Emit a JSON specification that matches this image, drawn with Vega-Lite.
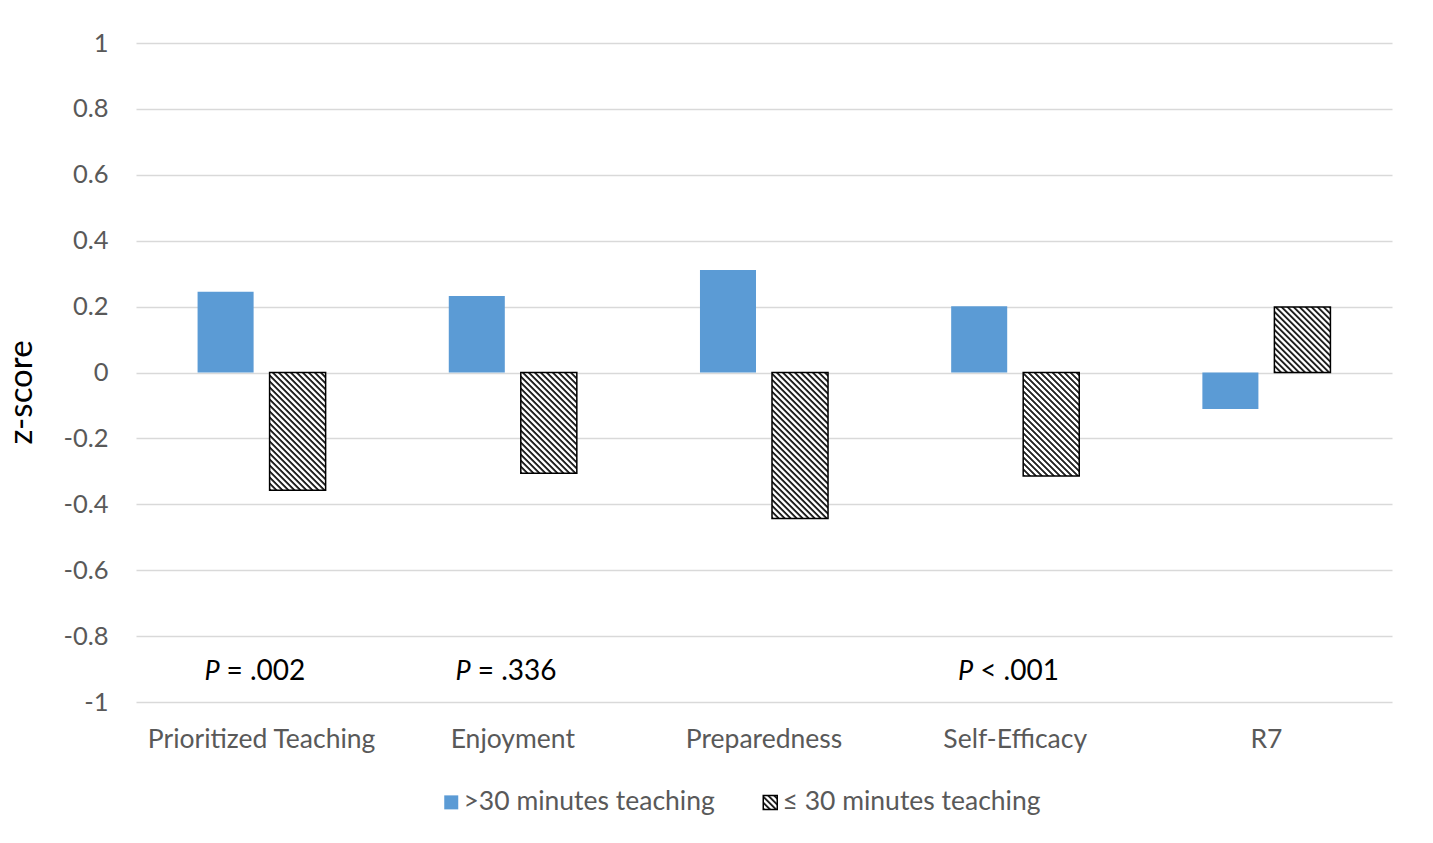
{
  "$schema": "https://vega.github.io/schema/vega-lite/v6.json",
  "width": 1256,
  "height": 659,
  "autosize": {"type": "none"},
  "padding": {"left": 136, "top": 43, "right": 41, "bottom": 141},
  "background": "#ffffff",
  "config": {"view": {"stroke": null}},
  "params": [
    {"name": "hatch", "value": [
      {"offset":0,"color":"#222"},{"offset":0.005,"color":"#222"},{"offset":0.009,"color":"#fff"},{"offset":0.016,"color":"#fff"},
      {"offset":0.02,"color":"#222"},{"offset":0.025,"color":"#222"},{"offset":0.029,"color":"#fff"},{"offset":0.036,"color":"#fff"},
      {"offset":0.04,"color":"#222"},{"offset":0.045,"color":"#222"},{"offset":0.049,"color":"#fff"},{"offset":0.056,"color":"#fff"},
      {"offset":0.06,"color":"#222"},{"offset":0.065,"color":"#222"},{"offset":0.069,"color":"#fff"},{"offset":0.076,"color":"#fff"},
      {"offset":0.08,"color":"#222"},{"offset":0.085,"color":"#222"},{"offset":0.089,"color":"#fff"},{"offset":0.096,"color":"#fff"},
      {"offset":0.1,"color":"#222"},{"offset":0.105,"color":"#222"},{"offset":0.109,"color":"#fff"},{"offset":0.116,"color":"#fff"},
      {"offset":0.12,"color":"#222"},{"offset":0.125,"color":"#222"},{"offset":0.129,"color":"#fff"},{"offset":0.136,"color":"#fff"},
      {"offset":0.14,"color":"#222"},{"offset":0.145,"color":"#222"},{"offset":0.149,"color":"#fff"},{"offset":0.156,"color":"#fff"},
      {"offset":0.16,"color":"#222"},{"offset":0.165,"color":"#222"},{"offset":0.169,"color":"#fff"},{"offset":0.176,"color":"#fff"},
      {"offset":0.18,"color":"#222"},{"offset":0.185,"color":"#222"},{"offset":0.189,"color":"#fff"},{"offset":0.196,"color":"#fff"},
      {"offset":0.2,"color":"#222"},{"offset":0.205,"color":"#222"},{"offset":0.209,"color":"#fff"},{"offset":0.216,"color":"#fff"},
      {"offset":0.22,"color":"#222"},{"offset":0.225,"color":"#222"},{"offset":0.229,"color":"#fff"},{"offset":0.236,"color":"#fff"},
      {"offset":0.24,"color":"#222"},{"offset":0.245,"color":"#222"},{"offset":0.249,"color":"#fff"},{"offset":0.256,"color":"#fff"},
      {"offset":0.26,"color":"#222"},{"offset":0.265,"color":"#222"},{"offset":0.269,"color":"#fff"},{"offset":0.276,"color":"#fff"},
      {"offset":0.28,"color":"#222"},{"offset":0.285,"color":"#222"},{"offset":0.289,"color":"#fff"},{"offset":0.296,"color":"#fff"},
      {"offset":0.3,"color":"#222"},{"offset":0.305,"color":"#222"},{"offset":0.309,"color":"#fff"},{"offset":0.316,"color":"#fff"},
      {"offset":0.32,"color":"#222"},{"offset":0.325,"color":"#222"},{"offset":0.329,"color":"#fff"},{"offset":0.336,"color":"#fff"},
      {"offset":0.34,"color":"#222"},{"offset":0.345,"color":"#222"},{"offset":0.349,"color":"#fff"},{"offset":0.356,"color":"#fff"},
      {"offset":0.36,"color":"#222"},{"offset":0.365,"color":"#222"},{"offset":0.369,"color":"#fff"},{"offset":0.376,"color":"#fff"},
      {"offset":0.38,"color":"#222"},{"offset":0.385,"color":"#222"},{"offset":0.389,"color":"#fff"},{"offset":0.396,"color":"#fff"},
      {"offset":0.4,"color":"#222"},{"offset":0.405,"color":"#222"},{"offset":0.409,"color":"#fff"},{"offset":0.416,"color":"#fff"},
      {"offset":0.42,"color":"#222"},{"offset":0.425,"color":"#222"},{"offset":0.429,"color":"#fff"},{"offset":0.436,"color":"#fff"},
      {"offset":0.44,"color":"#222"},{"offset":0.445,"color":"#222"},{"offset":0.449,"color":"#fff"},{"offset":0.456,"color":"#fff"},
      {"offset":0.46,"color":"#222"},{"offset":0.465,"color":"#222"},{"offset":0.469,"color":"#fff"},{"offset":0.476,"color":"#fff"},
      {"offset":0.48,"color":"#222"},{"offset":0.485,"color":"#222"},{"offset":0.489,"color":"#fff"},{"offset":0.496,"color":"#fff"},
      {"offset":0.5,"color":"#222"},{"offset":0.505,"color":"#222"},{"offset":0.509,"color":"#fff"},{"offset":0.516,"color":"#fff"},
      {"offset":0.52,"color":"#222"},{"offset":0.525,"color":"#222"},{"offset":0.529,"color":"#fff"},{"offset":0.536,"color":"#fff"},
      {"offset":0.54,"color":"#222"},{"offset":0.545,"color":"#222"},{"offset":0.549,"color":"#fff"},{"offset":0.556,"color":"#fff"},
      {"offset":0.56,"color":"#222"},{"offset":0.565,"color":"#222"},{"offset":0.569,"color":"#fff"},{"offset":0.576,"color":"#fff"},
      {"offset":0.58,"color":"#222"},{"offset":0.585,"color":"#222"},{"offset":0.589,"color":"#fff"},{"offset":0.596,"color":"#fff"},
      {"offset":0.6,"color":"#222"},{"offset":0.605,"color":"#222"},{"offset":0.609,"color":"#fff"},{"offset":0.616,"color":"#fff"},
      {"offset":0.62,"color":"#222"},{"offset":0.625,"color":"#222"},{"offset":0.629,"color":"#fff"},{"offset":0.636,"color":"#fff"},
      {"offset":0.64,"color":"#222"},{"offset":0.645,"color":"#222"},{"offset":0.649,"color":"#fff"},{"offset":0.656,"color":"#fff"},
      {"offset":0.66,"color":"#222"},{"offset":0.665,"color":"#222"},{"offset":0.669,"color":"#fff"},{"offset":0.676,"color":"#fff"},
      {"offset":0.68,"color":"#222"},{"offset":0.685,"color":"#222"},{"offset":0.689,"color":"#fff"},{"offset":0.696,"color":"#fff"},
      {"offset":0.7,"color":"#222"}
    ]}
  ],
  "datasets": {
    "bars": [
      {"category": "Prioritized Teaching", "group": ">30 minutes teaching", "z": 0.245},
      {"category": "Prioritized Teaching", "group": "≤ 30 minutes teaching", "z": -0.357},
      {"category": "Enjoyment", "group": ">30 minutes teaching", "z": 0.232},
      {"category": "Enjoyment", "group": "≤ 30 minutes teaching", "z": -0.306},
      {"category": "Preparedness", "group": ">30 minutes teaching", "z": 0.311},
      {"category": "Preparedness", "group": "≤ 30 minutes teaching", "z": -0.443},
      {"category": "Self-Efficacy", "group": ">30 minutes teaching", "z": 0.201},
      {"category": "Self-Efficacy", "group": "≤ 30 minutes teaching", "z": -0.314},
      {"category": "R7", "group": ">30 minutes teaching", "z": -0.111},
      {"category": "R7", "group": "≤ 30 minutes teaching", "z": 0.199}
    ],
    "notes": [
      {"category": "Prioritized Teaching", "p": "P", "rest": "= .002", "z": -0.9},
      {"category": "Enjoyment", "p": "P", "rest": "= .336", "z": -0.9},
      {"category": "Self-Efficacy", "p": "P", "rest": "< .001", "z": -0.9}
    ]
  },
  "data": {"name": "bars"},
  "encoding": {
    "x": {
      "field": "category", "type": "nominal",
      "sort": ["Prioritized Teaching", "Enjoyment", "Preparedness", "Self-Efficacy", "R7"],
      "scale": {"paddingInner": 0, "paddingOuter": 0},
      "axis": {
        "title": null, "domain": false, "ticks": false, "tickSize": 0, "grid": false,
        "labelAngle": 0, "labelPadding": 45, "labelBaseline": "alphabetic", "labelLimit": 0,
        "labelFont": "Lato", "labelFontSize": 26.5, "labelColor": "#595959"
      }
    },
    "y": {
      "field": "z", "type": "quantitative",
      "scale": {"domain": [-1, 1], "nice": false},
      "axis": {
        "values": [-1, -0.8, -0.6, -0.4, -0.2, 0, 0.2, 0.4, 0.6, 0.8, 1],
        "labelExpr": "toString(datum.value)",
        "domain": false, "ticks": false, "tickSize": 0, "labelPadding": 28, "labelFlush": false,
        "grid": true, "gridColor": "#d9d9d9", "gridWidth": 1.5,
        "labelFont": "Lato", "labelFontSize": 25.5, "labelColor": "#595959",
        "title": "z-score", "titleFont": "Lato", "titleFontSize": 33, "titleColor": "#000000",
        "titleFontWeight": "normal", "titleAngle": -90, "titleX": -115, "titleY": 349,
        "titleAlign": "center", "titleBaseline": "middle"
      }
    }
  },
  "layer": [
    {
      "transform": [{"filter": "datum.group === '>30 minutes teaching'"}],
      "mark": {"type": "bar"},
      "encoding": {
        "xOffset": {"field": "group", "type": "nominal", "scale": {"domain": [">30 minutes teaching", "≤ 30 minutes teaching"], "paddingInner": 0.222, "paddingOuter": 0.855}},
        "color": {
          "field": "group", "type": "nominal",
          "scale": {"domain": [">30 minutes teaching", "≤ 30 minutes teaching"], "range": ["#5B9BD5", {"expr": "{gradient: 'linear', x1: 0, y1: 1, x2: 10.714, y2: -9.714, stops: hatch}"}]},
          "legend": {
            "title": null, "orient": "none", "legendX": 302, "legendY": 746, "direction": "horizontal",
            "symbolType": "square", "symbolSize": 196, "padding": 0, "labelLimit": 0,
            "labelFont": "Lato", "labelFontSize": 26.5, "labelColor": "#595959", "labelOffset": -1, "columnPadding": 42,
            "encode": {
              "symbols": {
                "update": {
                  "stroke": {"signal": "datum.value === '≤ 30 minutes teaching' ? '#000000' : 'transparent'"},
                  "strokeWidth": {"value": 1.5},
                  "opacity": {"value": 1}
                }
              }
            }
          }
        }
      }
    },
    {
      "transform": [{"filter": "datum.group === '≤ 30 minutes teaching'"}],
      "mark": {
        "type": "bar", "stroke": "#000000", "strokeWidth": 1.5,
        "fill": {"expr": "{gradient: 'linear', x1: 0, y1: 1, x2: 300*bandwidth('xOffset')/(pow(bandwidth('xOffset'),2)+pow(scale('y',datum.z)-scale('y',0),2)), y2: 1-300*abs(scale('y',datum.z)-scale('y',0))/(pow(bandwidth('xOffset'),2)+pow(scale('y',datum.z)-scale('y',0),2)), stops: hatch}"}
      },
      "encoding": {
        "xOffset": {"field": "group", "type": "nominal", "scale": {"domain": [">30 minutes teaching", "≤ 30 minutes teaching"], "paddingInner": 0.222, "paddingOuter": 0.855}}
      }
    },
    {
      "data": {"name": "notes"},
      "mark": {"type": "text", "align": "right", "baseline": "alphabetic", "dx": -42, "dy": 11, "font": "Lato", "fontStyle": "italic", "fontSize": 27, "color": "#000000"},
      "encoding": {"text": {"field": "p"}}
    },
    {
      "data": {"name": "notes"},
      "mark": {"type": "text", "align": "left", "baseline": "alphabetic", "dx": -35, "dy": 11, "font": "Lato", "fontSize": 28, "color": "#000000"},
      "encoding": {"text": {"field": "rest"}}
    }
  ]
}
